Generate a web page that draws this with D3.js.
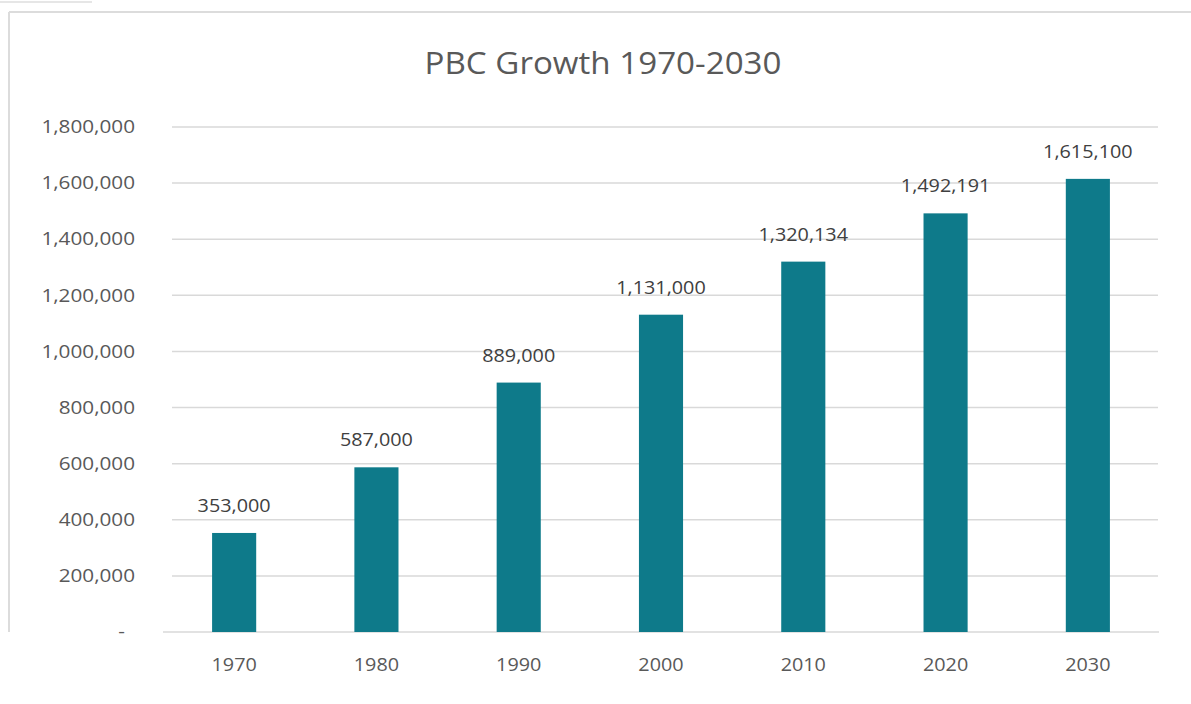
<!DOCTYPE html>
<html>
<head>
<meta charset="utf-8">
<script src="https://cdn.jsdelivr.net/npm/d3@7"></script>
<style>
  html, body { margin: 0; padding: 0; background: #ffffff; }
  svg { display: block; }
</style>
</head>
<body>
<svg id="chart" width="1191" height="704"></svg>
<script>
// ---- data ----
const categories = ["1970", "1980", "1990", "2000", "2010", "2020", "2030"];
const values = [353000, 587000, 889000, 1131000, 1320134, 1492191, 1615100];
const yTicks = [0, 200000, 400000, 600000, 800000, 1000000, 1200000, 1400000, 1600000, 1800000];
const titleText = "PBC Growth 1970-2030";

const svg = d3.select("#chart");
const font = "'Open Sans', 'Noto Sans', sans-serif";

// frame lines (chart area border)
svg.append("line").attr("x1", 9).attr("x2", 1191).attr("y1", 12).attr("y2", 12)
  .attr("stroke", "#dcdcdc").attr("stroke-width", 2);
svg.append("line").attr("x1", 9).attr("x2", 9).attr("y1", 12).attr("y2", 632)
  .attr("stroke", "#dcdcdc").attr("stroke-width", 2);
svg.append("line").attr("x1", 0).attr("x2", 92).attr("y1", 2).attr("y2", 2)
  .attr("stroke", "#e6e6e6").attr("stroke-width", 2);

const x = d3.scaleBand().domain(categories).range([163, 1159])
  .paddingInner(0.69).paddingOuter(0.345);
const y = d3.scaleLinear().domain([0, 1800000]).range([632, 127]);

// gridlines
svg.append("g").selectAll("line").data(yTicks.filter(d => d > 0)).join("line")
  .attr("x1", 172).attr("x2", 1158)
  .attr("y1", d => y(d)).attr("y2", d => y(d))
  .attr("stroke", "#d9d9d9").attr("stroke-width", 1.5);
// baseline
svg.append("line").attr("x1", 163).attr("x2", 1159).attr("y1", y(0)).attr("y2", y(0))
  .attr("stroke", "#d9d9d9").attr("stroke-width", 1.5);

// y axis
const yAxis = d3.axisLeft(y).tickValues(yTicks).tickSize(0).tickPadding(28)
  .tickFormat(d => d === 0 ? "-" : d3.format(",")(d));
const gy = svg.append("g").attr("transform", "translate(163,0)").call(yAxis);
gy.select(".domain").remove();
gy.selectAll("text").attr("font-family", font).attr("font-size", 18)
  .attr("fill", "#595959")
  .attr("dx", d => d === 0 ? -10 : 0)
  .each(function() {
    const w = this.getComputedTextLength();
    // stretch to match reference aspect
    d3.select(this).attr("textLength", w * 1.15).attr("lengthAdjust", "spacingAndGlyphs");
  });

// x axis
const xAxis = d3.axisBottom(x).tickSize(0).tickPadding(26);
const gx = svg.append("g").attr("transform", `translate(0,${y(0)})`).call(xAxis);
gx.select(".domain").remove();
gx.selectAll("text").attr("font-family", font).attr("font-size", 18).attr("fill", "#595959")
  .each(function() {
    const w = this.getComputedTextLength();
    d3.select(this).attr("textLength", w * 1.1).attr("lengthAdjust", "spacingAndGlyphs");
  });

// bars
svg.append("g").selectAll("rect").data(values).join("rect")
  .attr("x", (d, i) => x(categories[i]))
  .attr("width", x.bandwidth())
  .attr("y", d => y(d))
  .attr("height", d => y(0) - y(d))
  .attr("fill", "#0e7a8a");

// data labels
svg.append("g").selectAll("text").data(values).join("text")
  .attr("x", (d, i) => x(categories[i]) + x.bandwidth() / 2)
  .attr("y", d => y(d) - 21)
  .attr("text-anchor", "middle")
  .attr("font-family", font).attr("font-size", 18).attr("fill", "#404040")
  .text(d => d3.format(",")(d))
  .each(function() {
    const w = this.getComputedTextLength();
    d3.select(this).attr("textLength", w * 1.1).attr("lengthAdjust", "spacingAndGlyphs");
  });

// title
svg.append("text").attr("x", 603).attr("y", 74).attr("text-anchor", "middle")
  .attr("font-family", font).attr("font-size", 31).attr("fill", "#595959")
  .text(titleText)
  .attr("textLength", 357).attr("lengthAdjust", "spacingAndGlyphs");
</script>
</body>
</html>
